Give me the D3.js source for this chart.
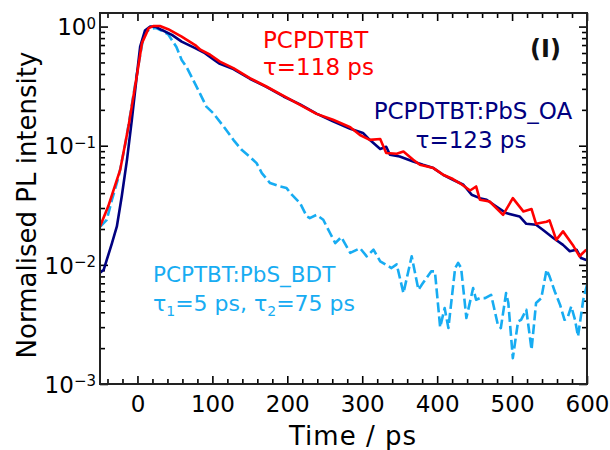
<!DOCTYPE html>
<html>
<head>
<meta charset="utf-8">
<script src="https://cdn.jsdelivr.net/npm/d3@7"></script>
<style>
    body { margin: 0; background: #fff; }
    text { font-family: "DejaVu Sans", sans-serif; }
</style>
</head>
<body>
<svg id="chart" width="610" height="450"></svg>
<script>
// PCPDTBT (red)
var pcpdtbtTime = [-50, -39, -23, -12, -1, 6, 15, 21, 30, 41, 59, 68, 77, 84, 97, 110, 128, 150, 172, 195,
    217, 239, 261, 284, 297, 310, 324, 332, 346, 355, 368, 377, 395, 408, 421, 430, 444, 452, 457, 470,
    488, 501, 515, 526, 532, 546, 550, 559, 568, 581, 590, 599];
var pcpdtbtPL = [0.021, 0.031, 0.063, 0.145, 0.381, 0.726, 0.97, 1.01, 1.01, 0.95, 0.824, 0.76, 0.70, 0.64, 0.58, 0.508, 0.448, 0.369, 0.314, 0.262,
    0.220, 0.185, 0.165, 0.143, 0.123, 0.112, 0.114, 0.087, 0.0855, 0.0894, 0.0762, 0.0692, 0.0649, 0.0570, 0.0525, 0.0486, 0.0421, 0.0455, 0.0352, 0.0340,
    0.0263, 0.0363, 0.0281, 0.0294, 0.0221, 0.0230, 0.0236, 0.0162, 0.0191, 0.0147, 0.0118, 0.0134];

// PCPDTBT:PbS_OA (navy)
var oaTime = [-50, -45, -41, -34, -27.5, -21, -14, -7.5, -1, 3.6, 10, 17, 24, 32, 46, 59, 77, 90, 101, 110,
    128, 150, 172, 195, 217, 239, 261, 284, 301, 310, 324, 332, 337, 350, 368, 381, 395, 408, 421, 435,
    446, 457, 466, 479, 492, 510, 519, 532, 541, 555, 568, 577, 586, 592, 599];
var oaPL = [0.0086, 0.0091, 0.011, 0.0152, 0.021, 0.0375, 0.076, 0.165, 0.381, 0.68, 0.925, 1.0, 1.0, 0.94, 0.852, 0.748, 0.659, 0.598, 0.533, 0.486,
    0.44, 0.365, 0.312, 0.259, 0.222, 0.186, 0.160, 0.139, 0.128, 0.112, 0.094, 0.098, 0.0839, 0.0812, 0.0737, 0.0691, 0.0649, 0.0570, 0.0518, 0.0470,
    0.0388, 0.0363, 0.0352, 0.0309, 0.0272, 0.0255, 0.0221, 0.0217, 0.0197, 0.0168, 0.0147, 0.0130, 0.0134, 0.0114, 0.0110];

// PCPTBT:PbS_BDT (light blue, dashed)
var bdtTime = [-50, -41, -34, -25, -16, -7.5, -1, 6, 10, 17, 24, 30, 41, 52, 59, 66, 79, 92, 101, 115,
    128, 139, 150, 159, 166, 177, 190, 199, 206, 217, 226, 230, 239, 248, 257, 264, 272, 284, 297, 306,
    315, 324, 339, 346, 355, 366, 375, 381, 392, 397, 404, 410, 415, 424, 428, 432, 439, 448, 452, 457,
    464, 472, 481, 485, 492, 495, 501, 508, 512, 519, 526, 532, 539, 546, 550, 557, 564, 570, 574, 579,
    584, 588, 595, 600];
var bdtPL = [0.0208, 0.0239, 0.0352, 0.0552, 0.105, 0.220, 0.394, 0.70, 0.885, 0.957, 0.975, 0.94, 0.86, 0.675, 0.525, 0.451, 0.312, 0.213, 0.188, 0.145,
    0.112, 0.0924, 0.0807, 0.0714, 0.0589, 0.0486, 0.0455, 0.0441, 0.0388, 0.0330, 0.0255, 0.0247, 0.0263, 0.0239, 0.0185, 0.0152, 0.0171, 0.0126, 0.0138, 0.0118,
    0.0134, 0.0107, 0.0094, 0.0101, 0.0058, 0.0118, 0.00618, 0.00703, 0.00881, 0.00881, 0.0030, 0.00434, 0.00295, 0.0094, 0.0104, 0.0094, 0.00358, 0.00638, 0.00509, 0.00526,
    0.00526, 0.00561, 0.00315, 0.00295, 0.0058, 0.00479, 0.00165, 0.00335, 0.00346, 0.0042, 0.00194, 0.00479, 0.00526, 0.0091, 0.0080, 0.00598, 0.00463, 0.00346, 0.00358, 0.00448,
    0.00346, 0.00251, 0.00509, 0.00681];

// Ticks
var xMajorTicks = [0, 100, 200, 300, 400, 500, 600];
var yMajorTicks = [1e-3, 1e-2, 1e-1, 1];
var yExponents = ["−3", "−2", "−1", "0"];

var width = 610, height = 450;
var margin = {top: 13, right: 23, bottom: 66, left: 100};
var w = width - margin.left - margin.right;
var h = height - margin.top - margin.bottom;

var svg = d3.select("#chart");
var g = svg.append("g")
    .attr("transform", `translate(${margin.left},${margin.top})`);

var x = d3.scaleLinear().domain([-50, 600]).range([0, w]);
var y = d3.scaleLog().domain([1e-3, 1.3]).range([h, 0]);

// minor ticks
var xMinor = d3.range(-40, 600, 20).filter(function(d) { return d % 100 !== 0; });
var yMinor = [];
[1e-3, 1e-2, 1e-1, 1].forEach(function(dec) {
    for (var k = 2; k <= 9; k++) {
        if (dec * k < 1.3) yMinor.push(dec * k);
    }
});

function styleAxis(sel) {
    sel.select(".domain").remove();
    sel.selectAll("line").attr("stroke", "#000").attr("stroke-width", 1.6);
    sel.selectAll("text").attr("fill", "#000").style("font-size", "23px");
}

// bottom axis
g.append("g").attr("transform", `translate(0,${h})`)
    .call(d3.axisBottom(x).tickValues(xMajorTicks).tickSizeInner(-8).tickSizeOuter(0).tickPadding(12).tickFormat(d3.format("d")))
    .call(styleAxis);
g.append("g").attr("transform", `translate(0,${h})`)
    .call(d3.axisBottom(x).tickValues(xMinor).tickSizeInner(-5).tickSizeOuter(0).tickFormat(""))
    .call(styleAxis);

// top axis
g.append("g")
    .call(d3.axisTop(x).tickValues(xMajorTicks).tickSizeInner(-8).tickSizeOuter(0).tickFormat(""))
    .call(styleAxis);
g.append("g")
    .call(d3.axisTop(x).tickValues(xMinor).tickSizeInner(-5).tickSizeOuter(0).tickFormat(""))
    .call(styleAxis);

// left axis
var yAxisG = g.append("g")
    .call(d3.axisLeft(y).tickValues(yMajorTicks).tickSizeInner(-8).tickSizeOuter(0).tickPadding(4).tickFormat(""))
    .call(styleAxis);
yAxisG.selectAll(".tick text")
    .attr("dy", "0.36em")
    .each(function(d, i) {
        var t = d3.select(this);
        t.append("tspan").text("10");
        t.append("tspan").attr("dy", "-0.45em").style("font-size", "15px").text(yExponents[i]);
    });
g.append("g")
    .call(d3.axisLeft(y).tickValues(yMinor).tickSizeInner(-5).tickSizeOuter(0).tickFormat(""))
    .call(styleAxis);

// right axis
g.append("g").attr("transform", `translate(${w},0)`)
    .call(d3.axisRight(y).tickValues(yMajorTicks).tickSizeInner(-8).tickSizeOuter(0).tickFormat(""))
    .call(styleAxis);
g.append("g").attr("transform", `translate(${w},0)`)
    .call(d3.axisRight(y).tickValues(yMinor).tickSizeInner(-5).tickSizeOuter(0).tickFormat(""))
    .call(styleAxis);

// clip
g.append("clipPath").attr("id", "plot-clip")
    .append("rect").attr("width", w).attr("height", h);

var line = d3.line()
    .x(function(d) { return x(d[0]); })
    .y(function(d) { return y(d[1]); });

var series = [
    {time: bdtTime, pl: bdtPL, color: "#17acf2", dash: "10,4"},
    {time: oaTime, pl: oaPL, color: "#000080", dash: null},
    {time: pcpdtbtTime, pl: pcpdtbtPL, color: "#ff0000", dash: null}
];

var plot = g.append("g").attr("clip-path", "url(#plot-clip)");
series.forEach(function(s) {
    plot.append("path")
        .datum(d3.zip(s.time, s.pl))
        .attr("fill", "none")
        .attr("stroke", s.color)
        .attr("stroke-width", 2.6)
        .attr("stroke-linejoin", "round")
        .attr("stroke-dasharray", s.dash)
        .attr("d", line);
});

// frame
g.append("rect")
    .attr("width", w).attr("height", h)
    .attr("fill", "none")
    .attr("stroke", "#222")
    .attr("stroke-width", 2);

// axis titles
svg.append("text")
    .attr("x", 353).attr("y", 445)
    .attr("text-anchor", "middle")
    .style("font-size", "26px")
    .style("letter-spacing", "1px")
    .text("Time / ps");

svg.append("text")
    .attr("transform", "translate(36,205) rotate(-90)")
    .attr("text-anchor", "middle")
    .style("font-size", "26px")
    .text("Normalised PL intensity");

// annotations
var labels = [
    {x: 263, y: 48, text: "PCPDTBT", color: "#ff0000", anchor: "start", size: 23},
    {x: 263, y: 75, text: "τ=118 ps", color: "#ff0000", anchor: "start", size: 23},
    {x: 473, y: 119, text: "PCPDTBT:PbS_OA", color: "#000080", anchor: "middle", size: 23},
    {x: 471, y: 148, text: "τ=123 ps", color: "#000080", anchor: "middle", size: 23},
    {x: 153, y: 282, text: "PCPTBT:PbS_BDT", color: "#17acf2", anchor: "start", size: 21.5}
];
labels.forEach(function(l) {
    svg.append("text")
        .attr("x", l.x).attr("y", l.y)
        .attr("text-anchor", l.anchor)
        .attr("fill", l.color)
        .style("font-size", l.size + "px")
        .text(l.text);
});

var tauText = svg.append("text")
    .attr("x", 153).attr("y", 311)
    .attr("fill", "#17acf2")
    .style("font-size", "22px");
tauText.append("tspan").text("τ");
tauText.append("tspan").attr("dy", 5).style("font-size", "14px").text("1");
tauText.append("tspan").attr("dy", -5).text("=5 ps, τ");
tauText.append("tspan").attr("dy", 5).style("font-size", "14px").text("2");
tauText.append("tspan").attr("dy", -5).text("=75 ps");

svg.append("text")
    .attr("x", 530).attr("y", 57)
    .style("font-size", "24px")
    .style("font-weight", "bold")
    .attr("fill", "#111")
    .text("(I)");
</script>
</body>
</html>
